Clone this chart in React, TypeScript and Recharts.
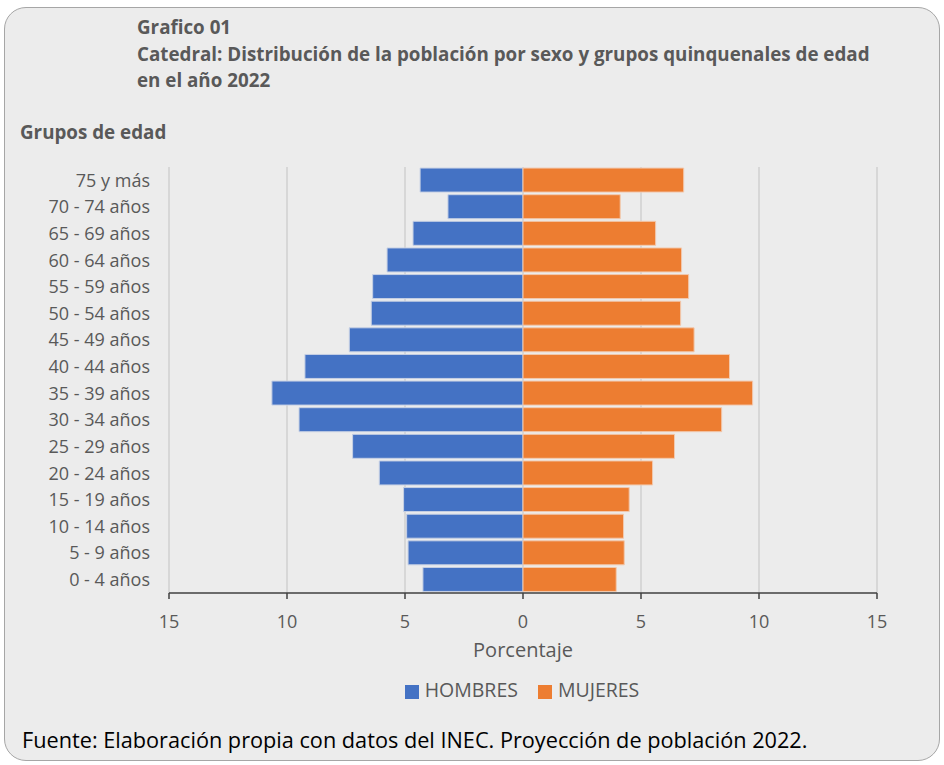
import {
  BarChart,
  Bar,
  XAxis,
  YAxis,
  CartesianGrid,
  Legend,
} from "recharts";

// grupos de edad, de abajo (0 - 4) hacia arriba (75 y más)
const grupos = [
  "0 - 4 años",
  "5 - 9 años",
  "10 - 14 años",
  "15 - 19 años",
  "20 - 24 años",
  "25 - 29 años",
  "30 - 34 años",
  "35 - 39 años",
  "40 - 44 años",
  "45 - 49 años",
  "50 - 54 años",
  "55 - 59 años",
  "60 - 64 años",
  "65 - 69 años",
  "70 - 74 años",
  "75 y más",
];

const hombres = [
  4.24, 4.87, 4.93, 5.06, 6.09, 7.22, 9.49, 10.64, 9.24, 7.36, 6.43, 6.37,
  5.76, 4.66, 3.18, 4.36,
];

const mujeres = [
  3.95, 4.29, 4.26, 4.5, 5.49, 6.42, 8.42, 9.73, 8.75, 7.25, 6.68, 7.02, 6.72,
  5.62, 4.12, 6.81,
];

const ticks = [-15, -10, -5, 0, 5, 10, 15];

const FONT = "'Open Sans', sans-serif";
const GRIS = "#595959";

export default function App() {
  // hombres a la izquierda (negativos), mujeres a la derecha
  const data = grupos.map((g, i) => ({
    grupo: g,
    HOMBRES: -hombres[i],
    MUJERES: mujeres[i],
  }));

  return (
    <div
      style={{
        position: "absolute",
        left: 0,
        top: 0,
        width: 944,
        height: 765,
        fontFamily: FONT,
        background: "#fff",
      }}
    >
      <div
        style={{
          position: "absolute",
          left: 4,
          top: 7,
          width: 936,
          height: 754,
          boxSizing: "border-box",
          border: "1.5px solid #a6a6a6",
          borderRadius: 22,
          background: "#ececec",
        }}
      />
      <div
        style={{
          position: "absolute",
          left: 137,
          top: 14,
          color: GRIS,
          fontWeight: 700,
          fontSize: 18.8,
          lineHeight: "26.5px",
          whiteSpace: "nowrap",
        }}
      >
        <div>Grafico 01</div>
        <div>
          Catedral: Distribución de la población por sexo y grupos quinquenales
          de edad
        </div>
        <div>en el año 2022</div>
      </div>
      <div
        style={{
          position: "absolute",
          left: 20,
          top: 119,
          color: GRIS,
          fontWeight: 700,
          fontSize: 18.8,
          lineHeight: "26px",
        }}
      >
        Grupos de edad
      </div>

      <BarChart
        style={{ position: "absolute", left: 0, top: 0 }}
        width={944}
        height={765}
        data={data}
        layout="vertical"
        stackOffset="sign"
        barCategoryGap="4%"
        margin={{ top: 167, right: 67, bottom: 108, left: 9 }}
      >
        <CartesianGrid
          horizontal={false}
          stroke="#d0d0d0"
          strokeWidth={1.5}
        />
        <XAxis
          type="number"
          domain={[-15, 15]}
          ticks={ticks}
          tickFormatter={(v) => String(Math.abs(v))}
          stroke="#404040"
          strokeWidth={1.5}
          tickSize={6}
          height={64}
          tick={{ fill: GRIS, fontSize: 18, fontFamily: FONT }}
          tickMargin={16}
          label={{
            value: "Porcentaje",
            position: "insideBottom",
            offset: 0,
            fill: GRIS,
            fontSize: 20,
            fontFamily: FONT,
          }}
        />
        <YAxis
          type="category"
          dataKey="grupo"
          reversed
          width={160}
          axisLine={false}
          tickLine={false}
          tickMargin={13}
          tick={{ fill: GRIS, fontSize: 18, fontFamily: FONT }}
        />
        <Legend
          layout="horizontal"
          verticalAlign="middle"
          align="center"
          iconType="square"
          iconSize={14}
          wrapperStyle={{
            top: 676,
            left: 60,
            width: 944,
            fontSize: 19.5,
            fontFamily: FONT,
          }}
          formatter={(value) => (
            <span style={{ color: GRIS, marginLeft: 2, marginRight: 10 }}>
              {value}
            </span>
          )}
        />
        <Bar
          dataKey="HOMBRES"
          stackId="p"
          fill="#4472c4"
          stroke="#c6d0e4"
          strokeWidth={1}
          isAnimationActive={false}
        />
        <Bar
          dataKey="MUJERES"
          stackId="p"
          fill="#ed7d31"
          stroke="#f2c9ae"
          strokeWidth={1}
          isAnimationActive={false}
        />
      </BarChart>

      <div
        style={{
          position: "absolute",
          left: 22,
          top: 725,
          color: "#000",
          fontSize: 21.7,
          whiteSpace: "nowrap",
        }}
      >
        Fuente: Elaboración propia con datos del INEC. Proyección de población
        2022.
      </div>
    </div>
  );
}
